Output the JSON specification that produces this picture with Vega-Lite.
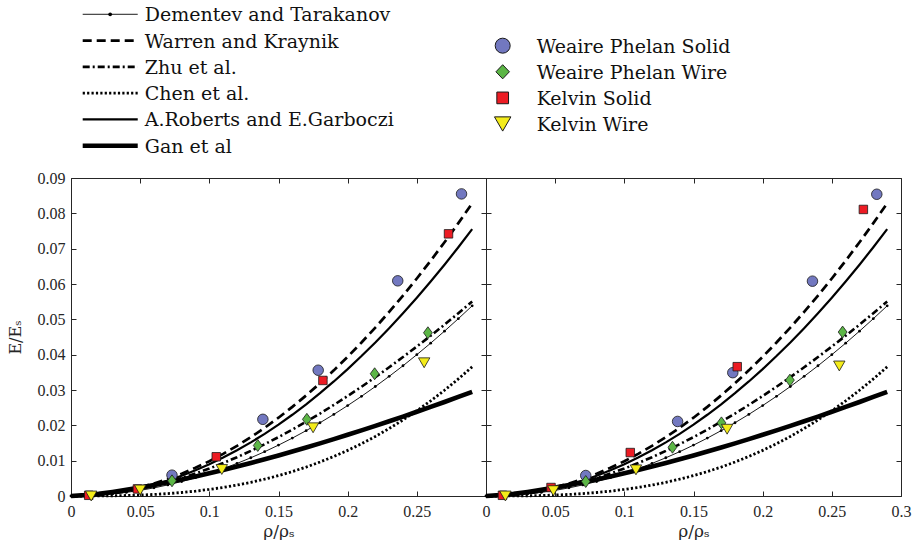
{
  "$schema": "https://vega.github.io/schema/vega-lite/v6.json",
  "padding": {"left": 6, "top": 0, "right": 0, "bottom": 0},
  "background": "white",
  "datasets": {
    "curves": [
      {"r": 0.00, "dt": 0, "wk": 0, "zhu": 0, "chen": 0, "rg": 0, "gan": 0},
      {"r": 0.01, "dt": 0.00006, "wk": 0.0001, "zhu": 0.00009, "chen": 0.000003, "rg": 0.00009, "gan": 0.00024},
      {"r": 0.02, "dt": 0.00026, "wk": 0.00039, "zhu": 0.00034, "chen": 0.00002, "rg": 0.00036, "gan": 0.00064},
      {"r": 0.03, "dt": 0.00058, "wk": 0.00089, "zhu": 0.00075, "chen": 0.00006, "rg": 0.00081, "gan": 0.00115},
      {"r": 0.04, "dt": 0.00102, "wk": 0.00158, "zhu": 0.00132, "chen": 0.00014, "rg": 0.00144, "gan": 0.00173},
      {"r": 0.05, "dt": 0.0016, "wk": 0.00246, "zhu": 0.00205, "chen": 0.00027, "rg": 0.00225, "gan": 0.00239},
      {"r": 0.06, "dt": 0.0023, "wk": 0.00355, "zhu": 0.00291, "chen": 0.00044, "rg": 0.00323, "gan": 0.0031},
      {"r": 0.07, "dt": 0.00314, "wk": 0.00483, "zhu": 0.00393, "chen": 0.00068, "rg": 0.0044, "gan": 0.00386},
      {"r": 0.08, "dt": 0.0041, "wk": 0.0063, "zhu": 0.00508, "chen": 0.00099, "rg": 0.00575, "gan": 0.00467},
      {"r": 0.09, "dt": 0.00518, "wk": 0.00798, "zhu": 0.00636, "chen": 0.00138, "rg": 0.00727, "gan": 0.00553},
      {"r": 0.10, "dt": 0.0064, "wk": 0.00985, "zhu": 0.00778, "chen": 0.00186, "rg": 0.00898, "gan": 0.00643},
      {"r": 0.11, "dt": 0.00774, "wk": 0.01192, "zhu": 0.00932, "chen": 0.00242, "rg": 0.01087, "gan": 0.00737},
      {"r": 0.12, "dt": 0.00922, "wk": 0.01418, "zhu": 0.01098, "chen": 0.00309, "rg": 0.01293, "gan": 0.00834},
      {"r": 0.13, "dt": 0.01082, "wk": 0.01665, "zhu": 0.01276, "chen": 0.00386, "rg": 0.01518, "gan": 0.00936},
      {"r": 0.14, "dt": 0.01254, "wk": 0.01931, "zhu": 0.01466, "chen": 0.00476, "rg": 0.0176, "gan": 0.0104},
      {"r": 0.15, "dt": 0.0144, "wk": 0.02216, "zhu": 0.01667, "chen": 0.00577, "rg": 0.0202, "gan": 0.01147},
      {"r": 0.16, "dt": 0.01638, "wk": 0.02522, "zhu": 0.01879, "chen": 0.00691, "rg": 0.02299, "gan": 0.01258},
      {"r": 0.17, "dt": 0.0185, "wk": 0.02847, "zhu": 0.02101, "chen": 0.00819, "rg": 0.02595, "gan": 0.01372},
      {"r": 0.18, "dt": 0.02074, "wk": 0.03191, "zhu": 0.02334, "chen": 0.00962, "rg": 0.0291, "gan": 0.0149},
      {"r": 0.19, "dt": 0.0231, "wk": 0.03556, "zhu": 0.02577, "chen": 0.01119, "rg": 0.03242, "gan": 0.01609},
      {"r": 0.20, "dt": 0.0256, "wk": 0.0394, "zhu": 0.0283, "chen": 0.01291, "rg": 0.03592, "gan": 0.01733},
      {"r": 0.21, "dt": 0.02822, "wk": 0.04344, "zhu": 0.03092, "chen": 0.0148, "rg": 0.0396, "gan": 0.01856},
      {"r": 0.22, "dt": 0.03098, "wk": 0.04767, "zhu": 0.03363, "chen": 0.01686, "rg": 0.04346, "gan": 0.01984},
      {"r": 0.23, "dt": 0.03386, "wk": 0.05211, "zhu": 0.03644, "chen": 0.0191, "rg": 0.0475, "gan": 0.02114},
      {"r": 0.24, "dt": 0.03686, "wk": 0.05674, "zhu": 0.03933, "chen": 0.02152, "rg": 0.05172, "gan": 0.02247},
      {"r": 0.25, "dt": 0.04, "wk": 0.06156, "zhu": 0.0423, "chen": 0.02413, "rg": 0.05613, "gan": 0.02384},
      {"r": 0.26, "dt": 0.04326, "wk": 0.06659, "zhu": 0.04537, "chen": 0.02692, "rg": 0.0607, "gan": 0.02521},
      {"r": 0.27, "dt": 0.04666, "wk": 0.07181, "zhu": 0.04851, "chen": 0.02993, "rg": 0.06546, "gan": 0.02661},
      {"r": 0.28, "dt": 0.05018, "wk": 0.07722, "zhu": 0.05173, "chen": 0.03313, "rg": 0.0704, "gan": 0.02803},
      {"r": 0.29, "dt": 0.05382, "wk": 0.08284, "zhu": 0.05503, "chen": 0.03655, "rg": 0.07552, "gan": 0.02946}
    ],
    "points": [
      {"panel": "Displacement", "series": "Weaire Phelan Solid", "r": 0.073, "E": 0.0059},
      {"panel": "Displacement", "series": "Weaire Phelan Solid", "r": 0.1387, "E": 0.0217},
      {"panel": "Displacement", "series": "Weaire Phelan Solid", "r": 0.1787, "E": 0.0356},
      {"panel": "Displacement", "series": "Weaire Phelan Solid", "r": 0.2362, "E": 0.0609},
      {"panel": "Displacement", "series": "Weaire Phelan Solid", "r": 0.2823, "E": 0.0855},
      {"panel": "Displacement", "series": "Weaire Phelan Wire", "r": 0.073, "E": 0.0043},
      {"panel": "Displacement", "series": "Weaire Phelan Wire", "r": 0.135, "E": 0.0143},
      {"panel": "Displacement", "series": "Weaire Phelan Wire", "r": 0.1705, "E": 0.0217},
      {"panel": "Displacement", "series": "Weaire Phelan Wire", "r": 0.2195, "E": 0.0346},
      {"panel": "Displacement", "series": "Weaire Phelan Wire", "r": 0.258, "E": 0.0462},
      {"panel": "Displacement", "series": "Kelvin Solid", "r": 0.0128, "E": 0.0002},
      {"panel": "Displacement", "series": "Kelvin Solid", "r": 0.048, "E": 0.002},
      {"panel": "Displacement", "series": "Kelvin Solid", "r": 0.105, "E": 0.0111},
      {"panel": "Displacement", "series": "Kelvin Solid", "r": 0.1821, "E": 0.0327},
      {"panel": "Displacement", "series": "Kelvin Solid", "r": 0.2729, "E": 0.0742},
      {"panel": "Displacement", "series": "Kelvin Wire", "r": 0.0146, "E": 0.0},
      {"panel": "Displacement", "series": "Kelvin Wire", "r": 0.05, "E": 0.0017},
      {"panel": "Displacement", "series": "Kelvin Wire", "r": 0.109, "E": 0.0075},
      {"panel": "Displacement", "series": "Kelvin Wire", "r": 0.175, "E": 0.0193},
      {"panel": "Displacement", "series": "Kelvin Wire", "r": 0.2553, "E": 0.0377},
      {"panel": "Force", "series": "Weaire Phelan Solid", "r": 0.0721, "E": 0.0058},
      {"panel": "Force", "series": "Weaire Phelan Solid", "r": 0.1385, "E": 0.0211},
      {"panel": "Force", "series": "Weaire Phelan Solid", "r": 0.1784, "E": 0.0349},
      {"panel": "Force", "series": "Weaire Phelan Solid", "r": 0.236, "E": 0.0608},
      {"panel": "Force", "series": "Weaire Phelan Solid", "r": 0.2825, "E": 0.0854},
      {"panel": "Force", "series": "Weaire Phelan Wire", "r": 0.0721, "E": 0.0041},
      {"panel": "Force", "series": "Weaire Phelan Wire", "r": 0.1348, "E": 0.0138},
      {"panel": "Force", "series": "Weaire Phelan Wire", "r": 0.1702, "E": 0.0207},
      {"panel": "Force", "series": "Weaire Phelan Wire", "r": 0.2197, "E": 0.0328},
      {"panel": "Force", "series": "Weaire Phelan Wire", "r": 0.2578, "E": 0.0464},
      {"panel": "Force", "series": "Kelvin Solid", "r": 0.0119, "E": 0.0002},
      {"panel": "Force", "series": "Kelvin Solid", "r": 0.047, "E": 0.0024},
      {"panel": "Force", "series": "Kelvin Solid", "r": 0.1043, "E": 0.0123},
      {"panel": "Force", "series": "Kelvin Solid", "r": 0.1816, "E": 0.0366},
      {"panel": "Force", "series": "Kelvin Solid", "r": 0.2728, "E": 0.0811},
      {"panel": "Force", "series": "Kelvin Wire", "r": 0.014, "E": 0.0},
      {"panel": "Force", "series": "Kelvin Wire", "r": 0.0487, "E": 0.0015},
      {"panel": "Force", "series": "Kelvin Wire", "r": 0.1084, "E": 0.0074},
      {"panel": "Force", "series": "Kelvin Wire", "r": 0.1743, "E": 0.0189},
      {"panel": "Force", "series": "Kelvin Wire", "r": 0.2554, "E": 0.0368}
    ],
    "lineKeys": [
      {"key": "dt", "label": "Dementev and Tarakanov"},
      {"key": "wk", "label": "Warren and Kraynik"},
      {"key": "zhu", "label": "Zhu et al."},
      {"key": "chen", "label": "Chen et al."},
      {"key": "rg", "label": "A.Roberts and E.Garboczi"},
      {"key": "gan", "label": "Gan et al"}
    ],
    "markerKeys": [
      {"series": "Weaire Phelan Solid"},
      {"series": "Weaire Phelan Wire"},
      {"series": "Kelvin Solid"},
      {"series": "Kelvin Wire"}
    ]
  },
  "spacing": 18,
  "bounds": "flush",
  "resolve": {"scale": {"size": "independent", "shape": "independent"}},
  "vconcat": [
    {
      "width": 830,
      "height": 160,
      "view": {"stroke": null},
      "resolve": {"scale": {"y": "independent"}},
      "layer": [
        {
          "data": {"name": "lineKeys"},
          "encoding": {
            "x": {"datum": 0.0141, "type": "quantitative", "scale": {"domain": [0, 1], "nice": false}, "axis": null},
            "y": {"field": "label", "type": "nominal", "axis": null,
                  "scale": {"type": "point", "padding": 0.5437,
                            "domain": ["Dementev and Tarakanov", "Warren and Kraynik", "Zhu et al.", "Chen et al.", "A.Roberts and E.Garboczi", "Gan et al"]}}
          },
          "layer": [
            {"transform": [{"filter": "datum.key == 'dt'"}], "mark": {"type": "rule", "color": "#000", "strokeWidth": 0.9}, "encoding": {"x2": {"datum": 0.0804}}},
            {"transform": [{"filter": "datum.key == 'wk'"}], "mark": {"type": "rule", "color": "#000", "strokeWidth": 2.7, "strokeDash": [9, 5]}, "encoding": {"x2": {"datum": 0.0804}}},
            {"transform": [{"filter": "datum.key == 'zhu'"}], "mark": {"type": "rule", "color": "#000", "strokeWidth": 2.6, "strokeDash": [7, 3, 2, 3]}, "encoding": {"x2": {"datum": 0.0804}}},
            {"transform": [{"filter": "datum.key == 'chen'"}], "mark": {"type": "rule", "color": "#000", "strokeWidth": 2.8, "strokeDash": [2.2, 2.2]}, "encoding": {"x2": {"datum": 0.0804}}},
            {"transform": [{"filter": "datum.key == 'rg'"}], "mark": {"type": "rule", "color": "#000", "strokeWidth": 2.2}, "encoding": {"x2": {"datum": 0.0804}}},
            {"transform": [{"filter": "datum.key == 'gan'"}], "mark": {"type": "rule", "color": "#000", "strokeWidth": 4.6}, "encoding": {"x2": {"datum": 0.0804}}},
            {"transform": [{"filter": "datum.key == 'dt'"}], "mark": {"type": "circle", "color": "#000", "opacity": 1, "size": 14},
             "encoding": {"x": {"datum": 0.0472, "type": "quantitative", "scale": {"domain": [0, 1], "nice": false}, "axis": null}}},
            {"mark": {"type": "text", "align": "left", "baseline": "middle", "dx": 7, "dy": 1, "font": "DejaVu Serif", "fontSize": 19, "color": "#111"},
             "encoding": {"x": {"datum": 0.0804, "type": "quantitative", "scale": {"domain": [0, 1], "nice": false}, "axis": null}, "text": {"field": "label"}}}
          ]
        },
        {
          "data": {"name": "markerKeys"},
          "encoding": {
            "x": {"datum": 0.5201, "type": "quantitative", "scale": {"domain": [0, 1], "nice": false}, "axis": null},
            "y": {"field": "series", "type": "nominal", "axis": null,
                  "scale": {"type": "point", "padding": 0.565, "align": 0.664,
                            "domain": ["", "Weaire Phelan Solid", "Weaire Phelan Wire", "Kelvin Solid", "Kelvin Wire", " "]}}
          },
          "layer": [
            {
              "mark": {"type": "point", "filled": true, "opacity": 1, "stroke": "#1a1a1a", "strokeWidth": 1},
              "encoding": {
                "shape": {"field": "series", "type": "nominal", "legend": null,
                          "scale": {"domain": ["Weaire Phelan Solid", "Weaire Phelan Wire", "Kelvin Solid", "Kelvin Wire"],
                                    "range": ["circle", "M0,-1.05L1,0L0,1.05L-1,0Z", "square", "triangle-down"]}},
                "fill": {"field": "series", "type": "nominal", "legend": null,
                         "scale": {"domain": ["Weaire Phelan Solid", "Weaire Phelan Wire", "Kelvin Solid", "Kelvin Wire"],
                                   "range": ["#7278c0", "#5cb646", "#ec1c24", "#f4ec1a"]}},
                "size": {"field": "series", "type": "nominal", "legend": null,
                         "scale": {"type": "point", "domain": ["Kelvin Solid", "Weaire Phelan Wire", "Weaire Phelan Solid", "Kelvin Wire"],
                                   "range": [137, 270]}}
              }
            },
            {
              "mark": {"type": "text", "align": "left", "baseline": "middle", "dx": 34, "dy": 1, "font": "DejaVu Serif", "fontSize": 19, "color": "#111"},
              "encoding": {"text": {"field": "series"}}
            }
          ]
        }
      ]
    },
    {
      "hconcat": [
        {
          "width": 415,
          "height": 318,
          "resolve": {"axis": {"x": "independent", "y": "independent"}},
          "data": {"name": "curves"},
          "encoding": {
            "x": {"field": "r", "type": "quantitative", "scale": {"domain": [0, 0.3], "nice": false}, "axis": null}
          },
          "layer": [
            {
              "mark": {"type": "line", "color": "#000", "strokeWidth": 2.2},
              "encoding": {
                "x": {"field": "r", "type": "quantitative", "scale": {"domain": [0, 0.3], "nice": false},
                      "axis": {"orient": "bottom", "values": [0, 0.05, 0.1, 0.15, 0.2, 0.25, 0.3],
                               "labelExpr": "datum.value > 0.29 ? '' : format(datum.value, '~g')",
                               "tickSize": -5, "labelPadding": 12, "labelFlush": false, "labelOverlap": false,
                               "title": "ρ/ρₛ", "titleFontSize": 17, "titlePadding": 4}},
                "y": {"field": "rg", "type": "quantitative", "scale": {"domain": [0, 0.09], "nice": false},
                      "axis": {"orient": "left", "values": [0, 0.01, 0.02, 0.03, 0.04, 0.05, 0.06, 0.07, 0.08, 0.09],
                               "format": "~g", "tickSize": -5, "labelPadding": 11, "labelOverlap": false,
                               "title": "E/Eₛ", "titleFontSize": 16, "titlePadding": 14}}
              }
            },
            {
              "mark": {"type": "line", "color": "#000", "strokeWidth": 2.7, "strokeDash": [9, 5]},
              "encoding": {"y": {"field": "wk", "type": "quantitative", "scale": {"domain": [0, 0.09], "nice": false}, "axis": null}}
            },
            {
              "mark": {"type": "line", "color": "#000", "strokeWidth": 2.6, "strokeDash": [7, 3, 2, 3]},
              "encoding": {"y": {"field": "zhu", "type": "quantitative", "scale": {"domain": [0, 0.09], "nice": false}, "axis": null}}
            },
            {
              "mark": {"type": "line", "color": "#000", "strokeWidth": 2.8, "strokeDash": [2.2, 2.2]},
              "encoding": {"y": {"field": "chen", "type": "quantitative", "scale": {"domain": [0, 0.09], "nice": false}, "axis": null}}
            },
            {
              "mark": {"type": "line", "color": "#000", "strokeWidth": 0.9},
              "encoding": {"y": {"field": "dt", "type": "quantitative", "scale": {"domain": [0, 0.09], "nice": false}, "axis": null}}
            },
            {
              "mark": {"type": "circle", "color": "#000", "opacity": 1, "size": 8},
              "encoding": {
                "x": {"field": "r", "type": "quantitative", "scale": {"domain": [0, 0.3], "nice": false},
                      "axis": {"orient": "top", "values": [0, 0.05, 0.1, 0.15, 0.2, 0.25, 0.3], "labels": false, "tickSize": -5, "title": null}},
                "y": {"field": "dt", "type": "quantitative", "scale": {"domain": [0, 0.09], "nice": false},
                      "axis": {"orient": "right", "values": [0, 0.01, 0.02, 0.03, 0.04, 0.05, 0.06, 0.07, 0.08, 0.09], "labels": false, "tickSize": -5, "title": null}}
              }
            },
            {
              "mark": {"type": "line", "color": "#000", "strokeWidth": 4.6},
              "encoding": {"y": {"field": "gan", "type": "quantitative", "scale": {"domain": [0, 0.09], "nice": false}, "axis": null}}
            },
            {
              "data": {"name": "points"},
              "transform": [{"filter": "datum.panel == 'Displacement'"}],
              "mark": {"type": "point", "filled": true, "opacity": 1, "stroke": "#1a1a1a", "strokeWidth": 0.8},
              "encoding": {
                "y": {"field": "E", "type": "quantitative", "scale": {"domain": [0, 0.09], "nice": false}, "axis": null},
                "shape": {"field": "series", "type": "nominal", "legend": null,
                          "scale": {"domain": ["Weaire Phelan Solid", "Weaire Phelan Wire", "Kelvin Solid", "Kelvin Wire"],
                                    "range": ["circle", "M0,-1.25L0.92,0L0,1.25L-0.92,0Z", "square", "triangle-down"]}},
                "fill": {"field": "series", "type": "nominal", "legend": null,
                         "scale": {"domain": ["Weaire Phelan Solid", "Weaire Phelan Wire", "Kelvin Solid", "Kelvin Wire"],
                                   "range": ["#7278c0", "#5cb646", "#ec1c24", "#f4ec1a"]}},
                "size": {"field": "series", "type": "nominal", "legend": null,
                         "scale": {"type": "point", "domain": ["Kelvin Solid", "Weaire Phelan Wire", "Weaire Phelan Solid", "Kelvin Wire"],
                                   "range": [72, 130]}}
              }
            },
            {
              "data": {"values": [{"label": "Displacement"}]},
              "mark": {"type": "text", "align": "center", "baseline": "alphabetic", "font": "DejaVu Serif", "fontSize": 23.5, "color": "#111"},
              "encoding": {
                "x": {"datum": 0.1535, "type": "quantitative", "scale": {"domain": [0, 0.3], "nice": false}, "axis": null},
                "y": {"datum": 0.0823, "type": "quantitative", "scale": {"domain": [0, 0.09], "nice": false}, "axis": null},
                "text": {"field": "label"}
              }
            }
          ]
        },
        {
          "width": 415,
          "height": 318,
          "resolve": {"axis": {"x": "independent", "y": "independent"}},
          "data": {"name": "curves"},
          "encoding": {
            "x": {"field": "r", "type": "quantitative", "scale": {"domain": [0, 0.3], "nice": false}, "axis": null}
          },
          "layer": [
            {
              "mark": {"type": "line", "color": "#000", "strokeWidth": 2.2},
              "encoding": {
                "x": {"field": "r", "type": "quantitative", "scale": {"domain": [0, 0.3], "nice": false},
                      "axis": {"orient": "bottom", "values": [0, 0.05, 0.1, 0.15, 0.2, 0.25, 0.3],
                               "format": "~g", "tickSize": -5, "labelPadding": 12, "labelFlush": false, "labelOverlap": false,
                               "title": "ρ/ρₛ", "titleFontSize": 17, "titlePadding": 4}},
                "y": {"field": "rg", "type": "quantitative", "scale": {"domain": [0, 0.09], "nice": false},
                      "axis": {"orient": "left", "values": [0, 0.01, 0.02, 0.03, 0.04, 0.05, 0.06, 0.07, 0.08, 0.09],
                               "labels": false, "tickSize": -5, "title": null}}
              }
            },
            {
              "mark": {"type": "line", "color": "#000", "strokeWidth": 2.7, "strokeDash": [9, 5]},
              "encoding": {"y": {"field": "wk", "type": "quantitative", "scale": {"domain": [0, 0.09], "nice": false}, "axis": null}}
            },
            {
              "mark": {"type": "line", "color": "#000", "strokeWidth": 2.6, "strokeDash": [7, 3, 2, 3]},
              "encoding": {"y": {"field": "zhu", "type": "quantitative", "scale": {"domain": [0, 0.09], "nice": false}, "axis": null}}
            },
            {
              "mark": {"type": "line", "color": "#000", "strokeWidth": 2.8, "strokeDash": [2.2, 2.2]},
              "encoding": {"y": {"field": "chen", "type": "quantitative", "scale": {"domain": [0, 0.09], "nice": false}, "axis": null}}
            },
            {
              "mark": {"type": "line", "color": "#000", "strokeWidth": 0.9},
              "encoding": {"y": {"field": "dt", "type": "quantitative", "scale": {"domain": [0, 0.09], "nice": false}, "axis": null}}
            },
            {
              "mark": {"type": "circle", "color": "#000", "opacity": 1, "size": 8},
              "encoding": {
                "x": {"field": "r", "type": "quantitative", "scale": {"domain": [0, 0.3], "nice": false},
                      "axis": {"orient": "top", "values": [0, 0.05, 0.1, 0.15, 0.2, 0.25, 0.3], "labels": false, "tickSize": -5, "title": null}},
                "y": {"field": "dt", "type": "quantitative", "scale": {"domain": [0, 0.09], "nice": false},
                      "axis": {"orient": "right", "values": [0, 0.01, 0.02, 0.03, 0.04, 0.05, 0.06, 0.07, 0.08, 0.09], "labels": false, "tickSize": -5, "title": null}}
              }
            },
            {
              "mark": {"type": "line", "color": "#000", "strokeWidth": 4.6},
              "encoding": {"y": {"field": "gan", "type": "quantitative", "scale": {"domain": [0, 0.09], "nice": false}, "axis": null}}
            },
            {
              "data": {"name": "points"},
              "transform": [{"filter": "datum.panel == 'Force'"}],
              "mark": {"type": "point", "filled": true, "opacity": 1, "stroke": "#1a1a1a", "strokeWidth": 0.8},
              "encoding": {
                "y": {"field": "E", "type": "quantitative", "scale": {"domain": [0, 0.09], "nice": false}, "axis": null},
                "shape": {"field": "series", "type": "nominal", "legend": null,
                          "scale": {"domain": ["Weaire Phelan Solid", "Weaire Phelan Wire", "Kelvin Solid", "Kelvin Wire"],
                                    "range": ["circle", "M0,-1.25L0.92,0L0,1.25L-0.92,0Z", "square", "triangle-down"]}},
                "fill": {"field": "series", "type": "nominal", "legend": null,
                         "scale": {"domain": ["Weaire Phelan Solid", "Weaire Phelan Wire", "Kelvin Solid", "Kelvin Wire"],
                                   "range": ["#7278c0", "#5cb646", "#ec1c24", "#f4ec1a"]}},
                "size": {"field": "series", "type": "nominal", "legend": null,
                         "scale": {"type": "point", "domain": ["Kelvin Solid", "Weaire Phelan Wire", "Weaire Phelan Solid", "Kelvin Wire"],
                                   "range": [72, 130]}}
              }
            },
            {
              "data": {"values": [{"label": "Force"}]},
              "mark": {"type": "text", "align": "center", "baseline": "alphabetic", "font": "DejaVu Serif", "fontSize": 23.5, "color": "#111"},
              "encoding": {
                "x": {"datum": 0.148, "type": "quantitative", "scale": {"domain": [0, 0.3], "nice": false}, "axis": null},
                "y": {"datum": 0.0823, "type": "quantitative", "scale": {"domain": [0, 0.09], "nice": false}, "axis": null},
                "text": {"field": "label"}
              }
            }
          ]
        }
      ],
      "spacing": 0,
      "bounds": "flush"
    }
  ],
  "config": {
    "view": {"stroke": "#262626", "strokeWidth": 1},
    "axis": {
      "grid": false,
      "domain": false,
      "tickColor": "#262626",
      "tickWidth": 1,
      "labelFont": "Liberation Serif",
      "labelFontSize": 16,
      "labelColor": "#262626",
      "titleFont": "DejaVu Serif",
      "titleFontWeight": "normal",
      "titleColor": "#262626"
    }
  }
}
